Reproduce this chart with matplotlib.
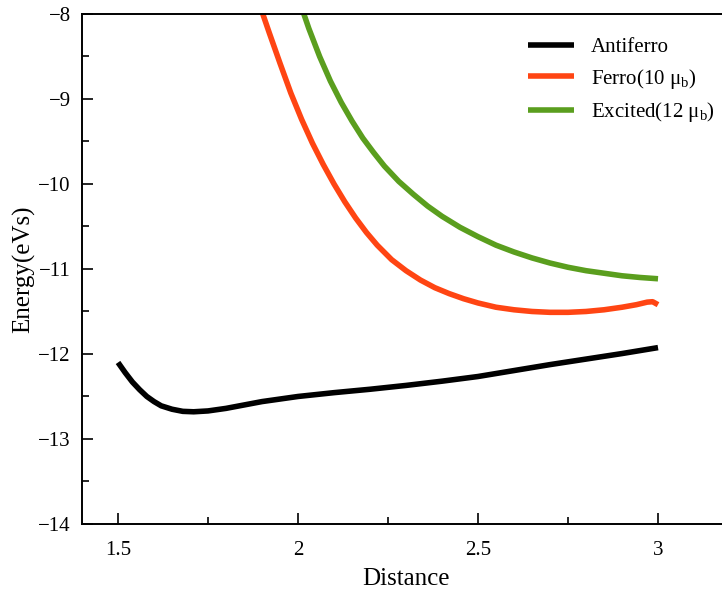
import numpy as np
import matplotlib
matplotlib.use('Agg')
import matplotlib.pyplot as plt
import matplotlib.ticker as mticker

plt.rcParams['font.family'] = ['Liberation Serif', 'DejaVu Serif']
plt.rcParams['mathtext.fontset'] = 'custom'
plt.rcParams['mathtext.rm'] = 'Liberation Serif'
plt.rcParams['mathtext.it'] = 'Liberation Serif:italic'

# data
anti_x = [1.50, 1.52, 1.54, 1.56, 1.58, 1.60, 1.62, 1.65, 1.68, 1.71, 1.75, 1.80,
          1.85, 1.90, 1.95, 2.00, 2.10, 2.20, 2.30, 2.40, 2.50, 2.60, 2.70, 2.80,
          2.90, 3.00]
anti_y = [-12.10, -12.22, -12.33, -12.42, -12.50, -12.56, -12.61, -12.65, -12.675,
          -12.68, -12.67, -12.64, -12.60, -12.56, -12.53, -12.50, -12.455, -12.415,
          -12.37, -12.32, -12.265, -12.195, -12.125, -12.06, -11.995, -11.925]

ferro_x = [1.89, 1.92, 1.95, 1.98, 2.01, 2.04, 2.07, 2.10, 2.13, 2.16, 2.19, 2.22,
           2.26, 2.30, 2.34, 2.38, 2.42, 2.46, 2.50, 2.55, 2.60, 2.65, 2.70, 2.75,
           2.80, 2.85, 2.90, 2.94, 2.97, 2.985, 3.00]
ferro_y = [-7.85, -8.22, -8.58, -8.93, -9.24, -9.52, -9.77, -10.00, -10.21, -10.40,
           -10.57, -10.72, -10.89, -11.02, -11.13, -11.22, -11.29, -11.35, -11.40,
           -11.45, -11.48, -11.50, -11.51, -11.51, -11.50, -11.48, -11.45, -11.42,
           -11.39, -11.385, -11.42]

exc_x = [2.00, 2.03, 2.06, 2.09, 2.12, 2.15, 2.18, 2.21, 2.24, 2.28, 2.32, 2.36,
         2.40, 2.45, 2.50, 2.55, 2.60, 2.65, 2.70, 2.75, 2.80, 2.85, 2.90, 2.95, 3.00]
exc_y = [-7.80, -8.17, -8.50, -8.79, -9.04, -9.26, -9.46, -9.63, -9.79, -9.97,
         -10.12, -10.26, -10.38, -10.51, -10.62, -10.72, -10.80, -10.87, -10.93,
         -10.98, -11.02, -11.05, -11.08, -11.10, -11.115]

fig = plt.figure(figsize=(7.22, 5.90), dpi=100)
ax = fig.add_axes([0.1136, 0.1119, 0.8975, 0.8644])

kw = dict(lw=4.0, solid_joinstyle='round', solid_capstyle='butt')
ax.plot(anti_x, anti_y, color='black', label='Antiferro', **kw)
ax.plot(ferro_x, ferro_y, color='#FF4513', label=r'Ferro(10 $\mathrm{\mu_b}$)', **kw)
ax.plot(exc_x, exc_y, color='#5A9E1E', label=r'Excited(12 $\mathrm{\mu_b}$)', **kw)

ax.set_xlim(1.4, 3.2)
ax.set_ylim(-14, -8)
ax.xaxis.set_major_locator(mticker.MultipleLocator(0.5))
ax.xaxis.set_minor_locator(mticker.MultipleLocator(0.25))
ax.yaxis.set_major_locator(mticker.MultipleLocator(1))
ax.yaxis.set_minor_locator(mticker.MultipleLocator(0.5))
ax.xaxis.set_major_formatter(mticker.FuncFormatter(lambda v, p: '%g' % v))
ax.tick_params(which='both', direction='in', top=False, right=False, width=1.2,
               labelsize=15)
ax.tick_params(axis='x', which='major', length=8, pad=12)
ax.tick_params(axis='y', which='major', length=8, pad=8)
ax.tick_params(which='minor', length=5)
for s in ax.spines.values():
    s.set_linewidth(1.4)

ax.set_xlabel('Distance', fontsize=18, labelpad=6)
ax.set_ylabel('Energy(eVs)', fontsize=18, labelpad=2)

ax.legend(loc='upper left', bbox_to_anchor=(0.66, 0.99), frameon=False,
          fontsize=15, handlelength=2.2, labelspacing=0.45)

fig.savefig('out.png', dpi=100)
